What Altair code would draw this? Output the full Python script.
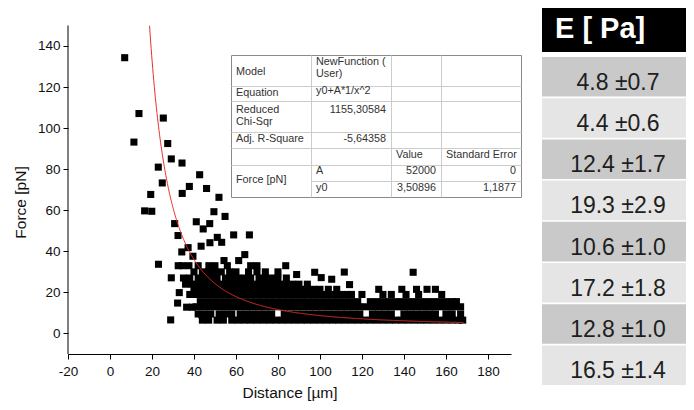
import altair as alt
import pandas as pd

FONT = "Liberation Sans"

# ---------------- scatter data ----------------
ISO_X = [7.0, 13.8, 11.4, 25.4, 27.5, 29.2, 34.3, 23.0, 42.7, 24.9, 37.8, 34.4, 46.0, 19.4, 51.9,
         16.5, 19.9, 49.5, 54.8, 41.1, 30.8, 44.4, 47.5, 32.4, 51.1, 47.6, 53.2, 43.4, 58.9, 66.4,
         34.2, 37.2, 39.5, 64.2, 54.3, 61.3, 23.1, 29.2, 33.0, 32.2, 28.9, 36.5, 39.2, 43.7, 144.4,
         111.6, 97.5, 100.6, 105.6, 114.1, 88.9]
ISO_Y = [134.3, 107.1, 93.2, 104.9, 92.5, 85.0, 83.0, 81.0, 77.3, 73.3, 71.6, 68.2, 70.6, 67.7, 66.3,
         59.7, 59.5, 59.3, 57.0, 54.4, 53.5, 50.9, 53.5, 47.7, 46.8, 44.2, 44.4, 42.5, 48.0, 48.0,
         39.7, 41.8, 37.6, 38.4, 35.5, 35.5, 33.7, 27.1, 19.9, 14.8, 6.6, 12.8, 12.8, 9.1, 29.8,
         29.9, 29.8, 27.2, 26.4, 23.8, 28.7]

BAND_FORCE = [6.5, 9.5, 13, 15.5, 19, 21.5, 24, 27, 30, 33]
BAND_DIST = [
    [44, 47, 51, 54, 58, 61, 64, 67, 70, 73, 76, 79, 82, 85, 88, 91, 94, 97, 100, 103, 106, 109, 112,
     115, 118, 121, 124, 127, 130, 133, 136, 139, 142, 145, 148, 151, 154, 157, 160, 163, 166, 168],
    [42, 45, 48, 52, 55, 58, 62, 65, 68, 71, 74, 77, 83, 86, 89, 92, 95, 98, 101, 104, 107, 110, 113,
     116, 119, 125, 128, 131, 134, 140, 143, 146, 149, 152, 155, 160, 163, 167],
    [41, 44, 47, 50, 53, 56, 59, 62, 65, 68, 71, 74, 77, 80, 83, 86, 89, 92, 95, 98, 101, 104, 107,
     110, 113, 116, 119, 122, 125, 128, 131, 134, 137, 140, 143, 146, 149, 152, 155, 158, 161, 164, 167],
    [43, 46, 49, 52, 55, 58, 61, 64, 67, 70, 73, 76, 79, 82, 85, 88, 91, 94, 97, 100, 103, 106, 109,
     112, 115, 118, 124, 127, 130, 133, 136, 139, 142, 145, 148, 151, 154, 157, 160, 163, 165],
    [38, 41, 44, 47, 50, 53, 56, 59, 62, 65, 68, 71, 74, 77, 80, 83, 86, 89, 92, 95, 98, 101, 104,
     107, 110, 113, 115, 120, 130, 134, 141, 147, 158],
    [40, 43, 46, 49, 52, 55, 58, 61, 64, 67, 70, 73, 76, 79, 82, 85, 88, 91, 94, 97, 100, 104, 108,
     128, 139, 146, 151, 155],
    [36, 39, 42, 45, 48, 51, 54, 57, 60, 63, 66, 69, 72, 75, 78, 81, 84, 87, 90, 94],
    [35, 38, 42, 45, 48, 51, 55, 58, 61, 64, 67, 71, 74, 77, 80, 84],
    [40, 44, 47, 50, 53, 57, 60, 66, 70, 74, 80],
    [32.5, 34.5, 37.6, 42, 47.1, 50, 55.9, 67, 70, 83.7],
]

# fit parameters shown in the chart
FIT_A = 52000
FIT_Y0 = 3.50896

# inner fit-result table text
FIT_TEXT_LEFT = ["Model", "NewFunction (", "User)", "Equation", "y0+A*1/x^2", "Reduced", "Chi-Sqr",
                 "Adj. R-Square", "Value", "Standard Error", "Force [pN]", "A", "y0"]
FIT_TEXT_RIGHT = ["1155,30584", "-5,64358", "52000", "0", "3,50896", "1,1877"]

# right-hand table
E_HEADER = "E [ Pa]"
E_VALUES = ["4.8 \u00b10.7", "4.4 \u00b10.6", "12.4 \u00b11.7", "19.3 \u00b12.9",
            "10.6 \u00b11.0", "17.2 \u00b11.8", "12.8 \u00b11.0", "16.5 \u00b11.4"]

X_TICKS = list(range(-20, 191, 10))
Y_TICKS = list(range(0, 151, 10))

# ---------------- layout constants ----------------
PLOT_W, PLOT_H = 443, 346
X_DOMAIN = [-20, 191]
Y_DOMAIN = [-10, 158.5]
TABLE_W = 144
# inner table grid (pixels, relative to plot area)
COLS = [163.5, 243.5, 323.5, 373.5, 453.5]
ROWS = [47.5, 78.5, 93.5, 124.5, 140.5, 157.5, 173.5, 189.5]
LEFT_COL = [0, 1, 1, 0, 1, 0, 0, 0, 2, 3, 0, 1, 1]
LEFT_Y = [63.7, 54.0, 66.0, 85.3, 82.5, 101.5, 114.2, 131.3, 147, 147, 172, 163, 179.7]
RIGHT_COL = [2, 2, 3, 4, 3, 4]
RIGHT_Y = [102, 131.3, 163, 163, 179.7, 179.7]

# ---------------- build data frames ----------------
dist = list(ISO_X)
force = list(ISO_Y)
for fy, xs in zip(BAND_FORCE, BAND_DIST):
    dist += xs
    force += [fy] * len(xs)
pts = pd.DataFrame({"distance": dist, "force": force})

xscale = alt.Scale(domain=X_DOMAIN, nice=False, zero=False)
yscale = alt.Scale(domain=Y_DOMAIN, nice=False, zero=False)

tick_size = {"condition": {"test": "datum.value % 20 === 0", "value": 5}, "value": 3}

x_axis = alt.Axis(values=X_TICKS, labelExpr="datum.value % 20 === 0 && datum.value <= 180 ? '' + datum.value : ''",
                  tickSize=tick_size, labelFlush=False, labelOverlap=False, grid=False,
                  title="Distance [\u00b5m]", titleFontSize=15.5, titleFont=FONT, titleFontWeight="normal",
                  titleColor="#111", titlePadding=8, labelFont=FONT, labelFontSize=13.5, labelColor="#111",
                  labelPadding=5, domainColor="black", tickColor="black")
y_axis = alt.Axis(values=Y_TICKS, labelExpr="datum.value % 20 === 0 ? '' + datum.value : ''",
                  tickSize=tick_size, labelFlush=False, labelOverlap=False, grid=False, domain=False,
                  title="Force [pN]", titleFontSize=15.5, titleFont=FONT, titleFontWeight="normal",
                  titleColor="#111", titlePadding=9, titleY=194, labelFont=FONT, labelFontSize=13.5,
                  labelColor="#111", labelPadding=3, tickColor="black")

points = alt.Chart(pts).mark_square(size=50, color="black", opacity=1).encode(
    x=alt.X("distance:Q", scale=xscale, axis=x_axis),
    y=alt.Y("force:Q", scale=yscale, axis=y_axis),
)

yline = alt.Chart(pd.DataFrame({"distance": [X_DOMAIN[0]], "force": [Y_DOMAIN[0]], "force2": [150]})).mark_rule(
    color="black", strokeWidth=1).encode(x="distance:Q", y="force:Q", y2="force2:Q")

curve = alt.Chart(alt.sequence(18.85, 168.6, 0.25, as_="distance")).transform_calculate(
    force=f"{FIT_Y0} + {FIT_A} / (datum.distance * datum.distance)"
).mark_line(color="#e8312f", strokeWidth=1, clip=True).encode(x="distance:Q", y="force:Q")

# inner table
box = alt.Chart(pd.DataFrame({"x1": [COLS[0]], "x2": [COLS[4]], "y1": [ROWS[0]], "y2": [ROWS[7]]})).mark_rect(
    fill="white", stroke="#8a8a8a", strokeWidth=1).encode(
    x=alt.X("x1:Q", scale=None), x2="x2:Q", y=alt.Y("y1:Q", scale=None), y2="y2:Q")

h_rows = []
for i in range(1, 7):
    h_rows.append({"x1": COLS[1] if i == 6 else COLS[0], "x2": COLS[4], "y": ROWS[i]})
hlines = alt.Chart(pd.DataFrame(h_rows)).mark_rule(color="#cccccc", strokeWidth=1).encode(
    x=alt.X("x1:Q", scale=None), x2="x2:Q", y=alt.Y("y:Q", scale=None))
v_rows = [{"x": COLS[j], "y1": ROWS[0], "y2": ROWS[7]} for j in range(1, 4)]
vlines = alt.Chart(pd.DataFrame(v_rows)).mark_rule(color="#cccccc", strokeWidth=1).encode(
    x=alt.X("x:Q", scale=None), y=alt.Y("y1:Q", scale=None), y2="y2:Q")

left_df = pd.DataFrame({"t": FIT_TEXT_LEFT, "x": [COLS[c] + 4.5 for c in LEFT_COL], "y": LEFT_Y})
right_df = pd.DataFrame({"t": FIT_TEXT_RIGHT, "x": [COLS[c] - 5.5 for c in RIGHT_COL], "y": RIGHT_Y})
ltext = alt.Chart(left_df).mark_text(font=FONT, fontSize=10.8, color="#333", align="left", baseline="middle").encode(
    x=alt.X("x:Q", scale=None), y=alt.Y("y:Q", scale=None), text="t:N")
rtext = alt.Chart(right_df).mark_text(font=FONT, fontSize=10.8, color="#333", align="right", baseline="middle").encode(
    x=alt.X("x:Q", scale=None), y=alt.Y("y:Q", scale=None), text="t:N")

scatter = alt.layer(points, curve, yline, box, hlines, vlines, ltext, rtext).properties(
    width=PLOT_W, height=PLOT_H)

# right table
header = alt.Chart(pd.DataFrame({"t": [E_HEADER]})).mark_text(
    font=FONT, fontSize=29, fontWeight="bold", color="white", align="left", baseline="middle").encode(
    text="t:N", x=alt.value(13), y=alt.value(21)).properties(
    width=TABLE_W, height=44, view=alt.ViewBackground(fill="black", stroke=None))

rows_df = pd.DataFrame({"row": list(range(len(E_VALUES))), "label": E_VALUES,
                        "shade": ["#c9c9c9", "#e5e5e5"] * (len(E_VALUES) // 2)})
rows_base = alt.Chart(rows_df).encode(
    y=alt.Y("row:O", axis=None, scale=alt.Scale(paddingInner=0.04, paddingOuter=0)))
row_rects = rows_base.mark_rect().encode(color=alt.Color("shade:N", scale=None))
row_text = rows_base.mark_text(font=FONT, fontSize=23, color="#1e1e1e", baseline="middle", dy=6).encode(
    text="label:N", x=alt.value(76))
rows_chart = alt.layer(row_rects, row_text).properties(width=TABLE_W, height=328)

table = alt.vconcat(header, rows_chart, spacing=5)

chart = alt.hconcat(scatter, table, spacing=20).properties(
    padding={"left": 5, "top": 0, "right": 0, "bottom": 0},
    background="white",
).configure_view(stroke=None)

chart.save("out.html", embed_options={"renderer": "svg", "actions": False})
